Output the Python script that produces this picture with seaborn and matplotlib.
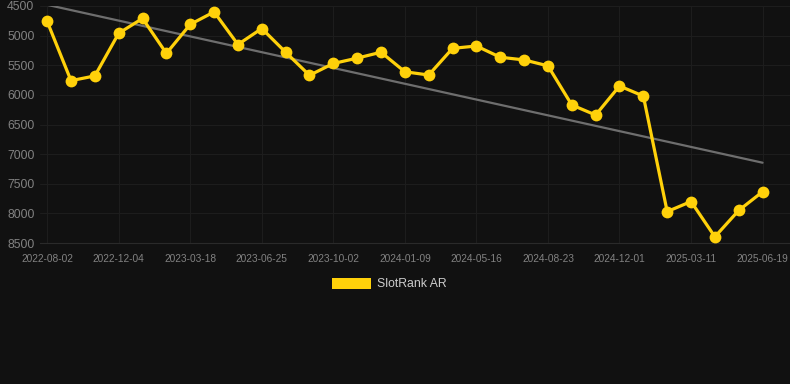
import matplotlib
matplotlib.use("Agg")
import matplotlib.pyplot as plt
import seaborn as sns
import pandas as pd
from matplotlib.patches import Patch

# SlotRank AR over time (lower rank number is better, axis inverted)
dates = [
    "2022-08-02", "2022-09-11", "2022-10-24", "2022-12-04", "2022-12-30", "2023-02-05",
    "2023-03-18", "2023-04-20", "2023-05-22", "2023-06-25", "2023-07-28", "2023-08-30",
    "2023-10-02", "2023-11-04", "2023-12-07", "2024-01-09", "2024-02-20", "2024-04-03",
    "2024-05-16", "2024-06-18", "2024-07-21", "2024-08-23", "2024-09-25", "2024-10-28",
    "2024-12-01", "2025-01-03", "2025-02-06", "2025-03-11", "2025-04-13", "2025-05-16",
    "2025-06-19",
]
ranks = [
    4760, 5760, 5680, 4960, 4710, 5300,
    4810, 4600, 5150, 4880, 5280, 5670,
    5470, 5380, 5280, 5610, 5665, 5215,
    5175, 5365, 5410, 5510, 6170, 6340,
    5850, 6020, 7970, 7800, 8395, 7950,
    7635,
]
trend_x = [0, 30]
trend_y = [4480, 7145]
y_ticks = [4500, 5000, 5500, 6000, 6500, 7000, 7500, 8000, 8500]

df = pd.DataFrame({"idx": range(len(dates)), "rank": ranks, "date": dates})
trend_df = pd.DataFrame({"idx": trend_x, "rank": trend_y})

sns.set_style("dark")
plt.rcParams["font.family"] = ["Liberation Sans", "DejaVu Sans"]

bg = "#111111"
fig = plt.figure(figsize=(7.9, 3.84), dpi=100, facecolor=bg)
ax = fig.add_axes([40 / 790, 1 - 243 / 384, 750 / 790, 237 / 384])
ax.set_facecolor(bg)

sns.lineplot(data=trend_df, x="idx", y="rank", ax=ax, color="#6e6e6e", linewidth=1.6, zorder=2)
sns.lineplot(data=df, x="idx", y="rank", ax=ax, color="#FFD10A", linewidth=2.3,
             marker="o", markersize=8.5, markeredgewidth=0, zorder=3)

ax.set_xlim(-0.3, 31.15)
ax.set_ylim(8500, 4500)
ax.set_yticks(y_ticks)
ax.set_yticklabels([str(v) for v in y_ticks])
tick_idx = list(range(0, len(dates), 3))
ax.set_xticks(tick_idx)
ax.set_xticklabels([dates[i] for i in tick_idx])

ax.grid(True, color="#1d1d1d", linewidth=0.8)
for s in ax.spines.values():
    s.set_visible(False)
ax.spines["bottom"].set_visible(True)
ax.spines["bottom"].set_color("#2a2a2a")
ax.spines["bottom"].set_linewidth(0.8)
ax.tick_params(axis="y", colors="#828282", labelsize=8.8, length=0, pad=4)
ax.tick_params(axis="x", colors="#828282", labelsize=7.3, length=5, width=0.8, pad=3)
ax.tick_params(axis="x", color="#222222")
ax.set_xlabel("")
ax.set_ylabel("")

handle = Patch(facecolor="#FFD10A", edgecolor="none")
leg = fig.legend([handle], ["SlotRank AR"], loc="center",
                 bbox_to_anchor=(0.5 - 6 / 790, 1 - 284 / 384),
                 frameon=False, fontsize=8.8, handlelength=3.2, handleheight=1.0,
                 handletextpad=0.5, labelcolor="#cccccc")

fig.savefig("out.png", dpi=100, facecolor=bg)
